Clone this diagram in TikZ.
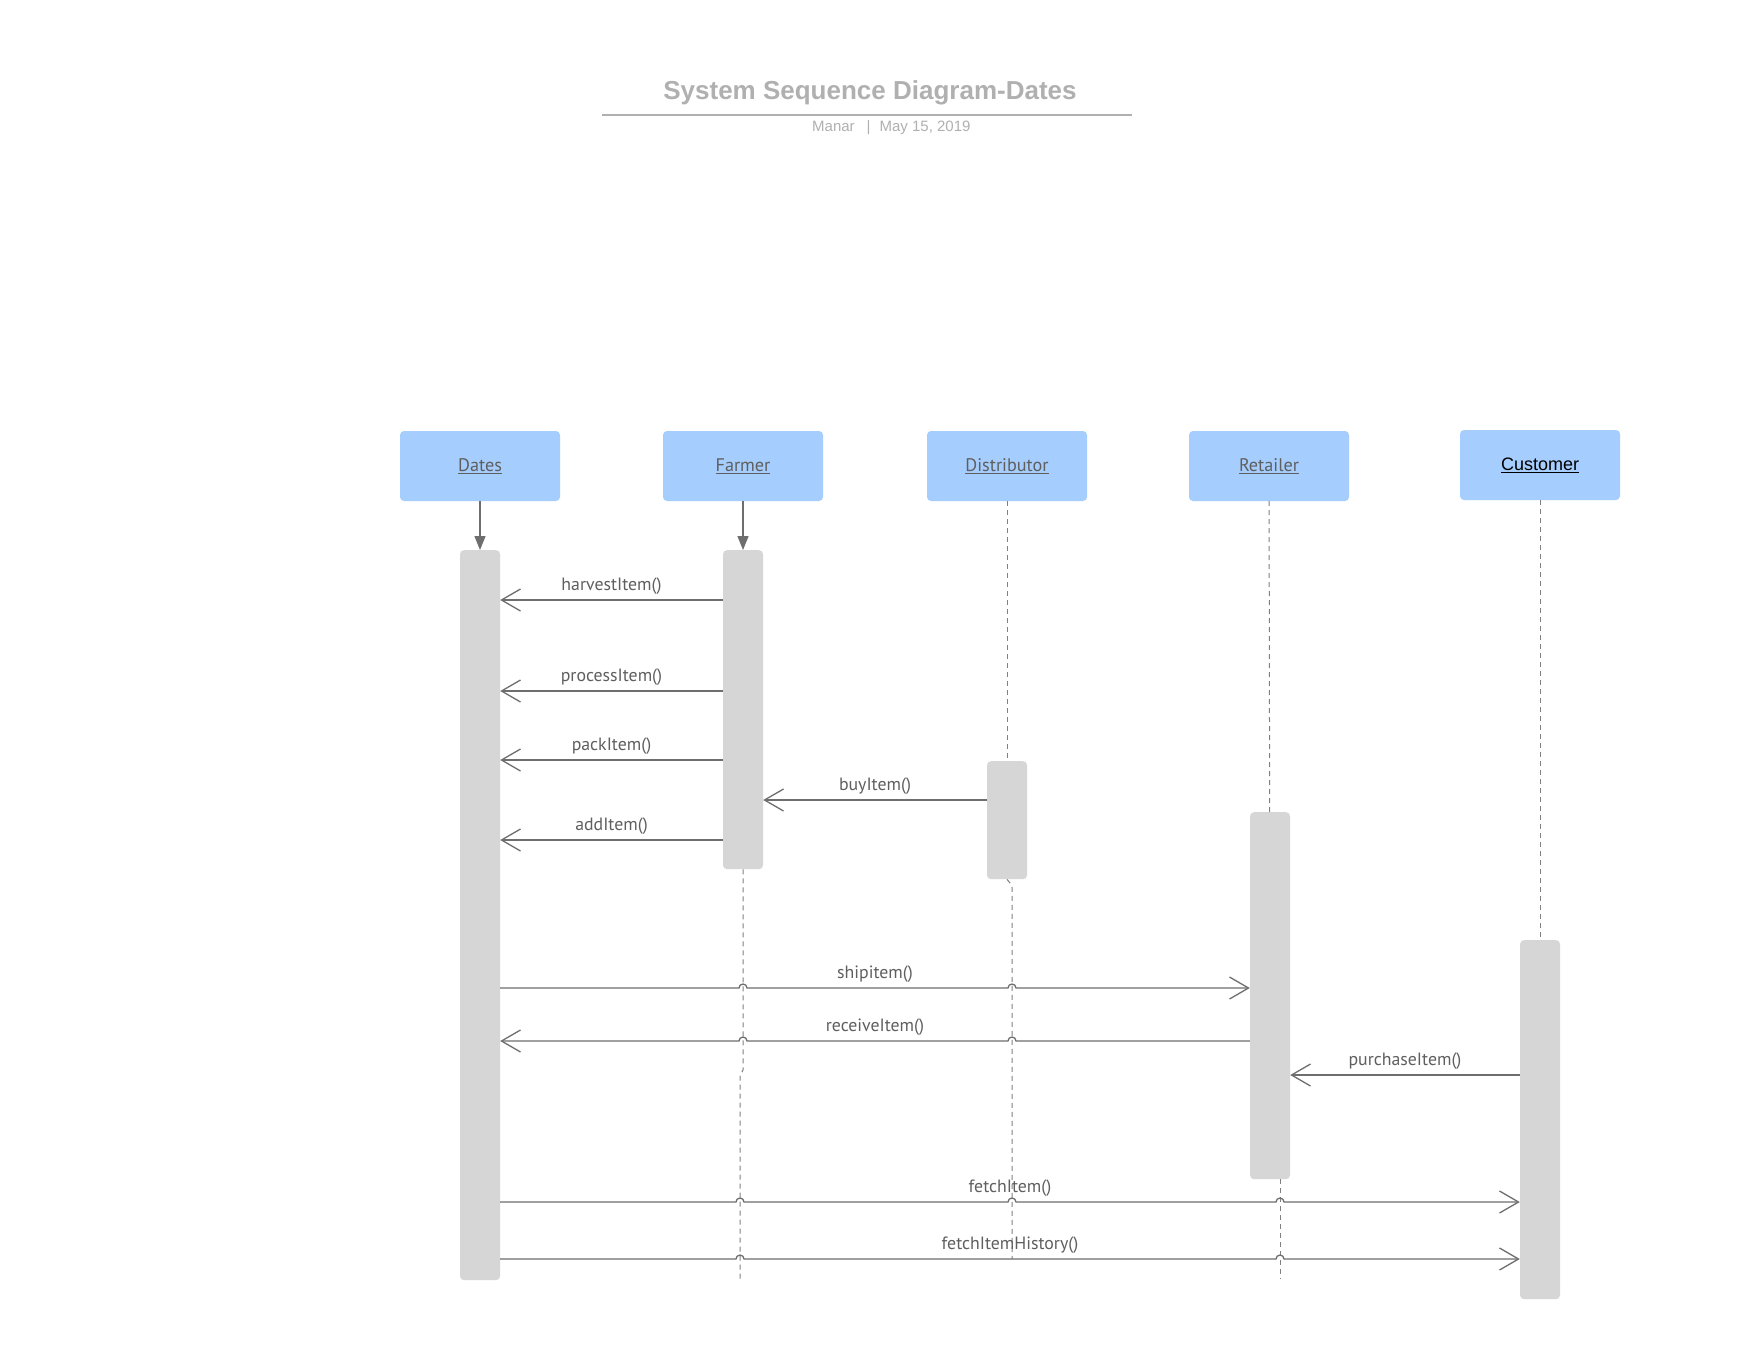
\documentclass[tikz,border=0pt]{standalone}
\usepackage{fontspec}
\setmainfont{PT Sans}
\newfontfamily\arialfont{Liberation Sans}
\usetikzlibrary{arrows.meta}

\definecolor{headblue}{RGB}{165,205,253}
\definecolor{bargray}{RGB}{214,214,214}
\definecolor{linegray}{RGB}{110,110,110}
\definecolor{labelgray}{RGB}{95,95,95}
\definecolor{titlegray}{RGB}{176,176,176}

\begin{document}
\begin{tikzpicture}[x=1pt, y=-1pt,
		head/.style={fill=headblue, rounded corners=4pt, minimum width=160pt, minimum height=70pt, inner sep=0pt, text=labelgray, font=\fontsize{18.2}{21}\selectfont},
		bar/.style={fill=bargray, rounded corners=4pt, minimum width=40pt, inner sep=0pt, anchor=north},
		life/.style={draw=gray, line width=1pt, dash pattern=on 5pt off 4pt},
		create/.style={draw=linegray, line width=1.3pt, -{Triangle[length=14pt,width=11pt]}},
		call/.style={draw=linegray, line width=1.3pt, -{Straight Barb[length=19pt,width=22pt]}},
		msglabel/.style={text=labelgray, font=\fontsize{17.8}{21}\selectfont, yshift=14pt}]

		\fill[white] (0,0) rectangle (1760,1360);
		\useasboundingbox (0,0) rectangle (1760,1360);

		% title block
		\node (title) at (870,99) [anchor=base, text=titlegray, font=\arialfont\bfseries\fontsize{26}{30}\selectfont] {System Sequence Diagram-Dates};
		\coordinate (tl) at (602,115);
		\coordinate (tr) at (1132,115);
		\draw[titlegray, line width=2pt] (tl) -- (tr);
		\node (sub) at (812,131) [anchor=base west, inner sep=0pt, text=titlegray, font=\arialfont\fontsize{15}{18}\selectfont] {Manar\hspace*{12pt}|\hspace*{9pt}May 15, 2019};

		% heads
		\foreach \name/\x/\txt in {dates/480/Dates, farmer/743/Farmer, distributor/1007/Distributor, retailer/1269/Retailer} {
		    \node (\name) at (\x,466) [head] {\underline{\txt}};
		}
		\node (customer) at (1540,465) [head, text=black, font=\arialfont\fontsize{18}{21}\selectfont] {\underline{Customer}};

		% activation bars
		\foreach \name/\x/\top/\len in {datesbar/480/550/730, farmerbar/743/550/319, distributorbar/1007/761/118, retailerbar/1270/812/367, customerbar/1540/940/359} {
		    \node (\name) at (\x,\top) [bar, minimum height=\len pt] {};
		}

		\draw[create] (dates) -- (datesbar);
		\draw[create] (farmer) -- (farmerbar);

		% lifelines
		\draw[life] (distributor) -- (distributorbar);
		\draw[life] (retailer) -- (retailerbar);
		\draw[life] (customer) -- (customerbar);

		\coordinate (fjog) at (743,1070);
		\coordinate (fend) at (740,1279);
		\coordinate (dend) at (1012,1259);
		\coordinate (rend) at (1280,1279);
		\draw[life] (farmerbar.south) -- (fjog) -- ++(-3,6) -- (fend);
		\draw[life] (distributorbar.south) to[out=-60,in=90] ++(5,8) -- (dend);
		\draw[life] (retailerbar.south -| rend) -- (rend);

		% messages
		\foreach \y/\txt in {600/harvestItem(), 691/processItem(), 760/packItem(), 840/addItem()} {
		    \draw[call] (farmerbar.west |- 0,\y) -- (datesbar.east |- 0,\y) node[midway, msglabel] {\txt};
		}
		\draw[call] (distributorbar.west |- 0,800) -- (farmerbar.east |- 0,800) node[midway, msglabel] {buyItem()};

		\draw[call] (datesbar.east |- 0,988) \foreach \hx in {743,1012} { -- (\hx-4,988) arc[start angle=180, end angle=0, radius=4pt] } -- (retailerbar.west |- 0,988);
		\node (ship) at (875,988) [msglabel] {shipitem()};

		\draw[call] (retailerbar.west |- 0,1041) \foreach \hx in {1012,743} { -- (\hx+4,1041) arc[start angle=0, end angle=180, radius=4pt] } -- (datesbar.east |- 0,1041);
		\node (recv) at (875,1041) [msglabel] {receiveItem()};

		\draw[call] (customerbar.west |- 0,1075) -- (retailerbar.east |- 0,1075) node[midway, msglabel] {purchaseItem()};

		\draw[call] (datesbar.east |- 0,1202) \foreach \hx in {740,1012,1280} { -- (\hx-4,1202) arc[start angle=180, end angle=0, radius=4pt] } -- (customerbar.west |- 0,1202);
		\node (fetch) at (1010,1202) [msglabel] {fetchItem()};

		\draw[call] (datesbar.east |- 0,1259) \foreach \hx in {740,1280} { -- (\hx-4,1259) arc[start angle=180, end angle=0, radius=4pt] } -- (customerbar.west |- 0,1259);
		\node (hist) at (1010,1259) [msglabel] {fetchItemHistory()};
	\end{tikzpicture}
\end{document}
